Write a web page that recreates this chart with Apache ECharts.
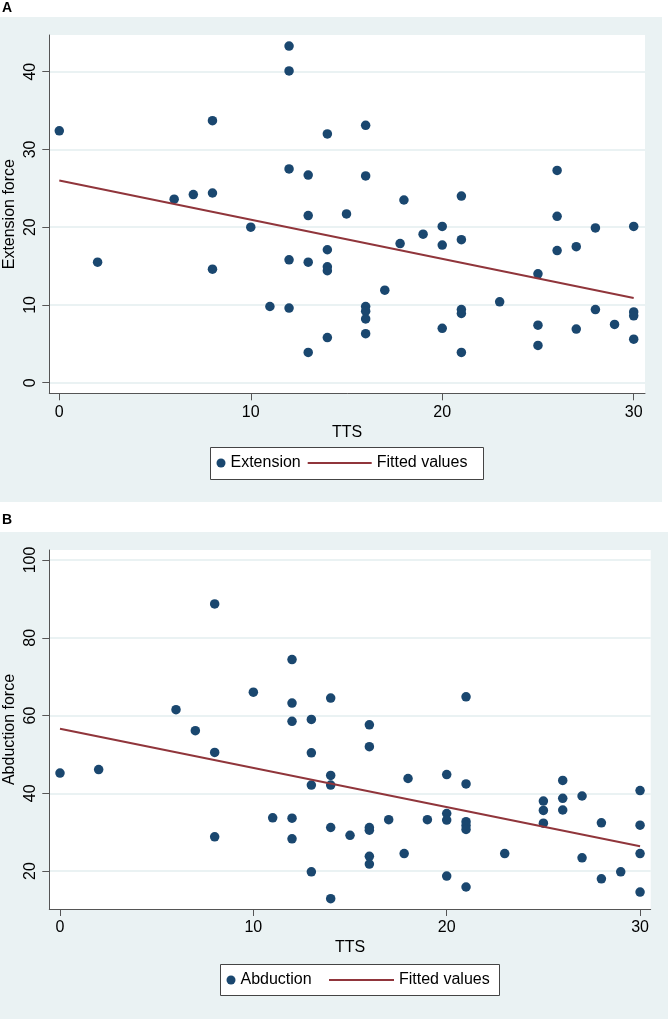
<!DOCTYPE html>
<html><head><meta charset="utf-8">
<script src="https://cdn.jsdelivr.net/npm/echarts@6/dist/echarts.min.js"></script>
<style>html,body{margin:0;padding:0;background:#fff}#c{width:668px;height:1019px}</style>
</head><body><div id="c"></div>
<script>
// Panel A: Extension force vs TTS
const extTTS = [0, 2, 6, 7, 8, 8, 8, 10, 11, 12, 12, 12, 12, 12, 13, 13, 13, 13, 14, 14, 14, 14, 14, 15,
  16, 16, 16, 16, 16, 16, 17, 17.8, 18, 19, 20, 20, 20, 21, 21, 21, 21, 21, 23, 25, 25, 25, 26, 26, 26,
  27, 27, 28, 28, 29, 30, 30, 30, 30];
const extForce = [32.4, 15.5, 23.6, 24.2, 33.7, 24.4, 14.6, 20.0, 9.8, 43.3, 40.1, 27.5, 15.8, 9.6, 26.7, 21.5, 15.5, 3.9, 32.0, 17.1, 14.9, 14.4, 5.8, 21.7,
  33.1, 26.6, 9.8, 9.2, 8.2, 6.3, 11.9, 17.9, 23.5, 19.1, 20.1, 17.7, 7.0, 24.0, 18.4, 9.4, 8.9, 3.9, 10.4, 14.0, 7.4, 4.8, 27.3, 21.4, 17.0,
  17.5, 6.9, 19.9, 9.4, 7.5, 20.1, 9.1, 8.6, 5.6];
const extFitTTS = [0, 30];
const extFitValues = [26.0, 10.9];

// Panel B: Abduction force vs TTS
const abdTTS = [0, 2, 6, 7, 8, 8, 8, 10, 11, 12, 12, 12, 12, 12, 13, 13, 13, 13, 14, 14, 14, 14, 14, 15,
  16, 16, 16, 16, 16, 16, 17, 17.8, 18, 19, 20, 20, 20, 20, 21, 21, 21, 21, 21, 21, 23, 25, 25, 25,
  26, 26, 26, 27, 27, 28, 28, 29, 30, 30, 30, 30];
const abdForce = [45.2, 46.1, 61.5, 56.1, 88.7, 50.5, 28.8, 66.0, 33.7, 74.4, 63.2, 58.5, 33.6, 28.3, 59.0, 50.4, 42.1, 19.8, 64.5, 44.6, 42.1, 31.2, 12.9, 29.2,
  57.6, 52.0, 31.2, 30.5, 23.8, 21.8, 33.2, 24.5, 43.8, 33.2, 44.8, 34.8, 33.1, 18.7, 64.8, 42.4, 32.7, 31.7, 30.7, 15.9, 24.5, 38.0, 35.6, 32.3,
  43.3, 38.7, 35.7, 39.3, 23.4, 32.4, 18.0, 19.8, 40.7, 31.8, 24.5, 14.6];
const abdFitTTS = [0, 30];
const abdFitValues = [56.6, 26.4];

const xTicks = [0, 10, 20, 30];
const yTicksA = [0, 10, 20, 30, 40];
const yTicksB = [20, 40, 60, 80, 100];

const FONT = '"Liberation Sans", Arial, sans-serif';
const DOT = '#1a476f', FIT = '#90353b', BG = '#eaf2f3', AX = '#555';

function pairs(xs, ys) { return xs.map((x, i) => [x, ys[i]]); }

function xAx(grid, min, max) {
  return {
    type: 'value', gridIndex: grid, min: min, max: max,
    name: 'TTS', nameLocation: 'middle', nameGap: 31,
    nameTextStyle: { fontFamily: FONT, fontSize: 16, color: '#000' },
    axisLine: { show: true, onZero: false, lineStyle: { color: AX, width: 1 } },
    axisTick: { show: true, length: 7, customValues: xTicks, lineStyle: { color: AX } },
    axisLabel: { customValues: xTicks, margin: 11, fontFamily: FONT, fontSize: 16, color: '#000' },
    splitLine: { show: false }
  };
}
function yAx(grid, min, max, name, ticks) {
  return {
    type: 'value', gridIndex: grid, min: min, max: max,
    name: name, nameLocation: 'middle', nameGap: 32, nameMoveOverlap: false,
    nameTextStyle: { fontFamily: FONT, fontSize: 16, color: '#000' },
    axisLine: { show: true, onZero: false, lineStyle: { color: AX, width: 1 } },
    axisTick: { show: true, length: 7, customValues: ticks, lineStyle: { color: AX } },
    axisLabel: { customValues: ticks, rotate: 90, margin: 11, fontFamily: FONT, fontSize: 16, color: '#000' },
    splitLine: { show: true, customValues: ticks, lineStyle: { color: BG, width: 2 } }
  };
}

const legendText = { fontFamily: FONT, fontSize: 16, color: '#000' };

const chart = echarts.init(document.getElementById('c'), null, { renderer: 'canvas' });
chart.setOption({
  animation: false,
  backgroundColor: '#fff',
  textStyle: { fontFamily: FONT },
  graphic: [
    { type: 'rect', z: -10, shape: { x: 0, y: 17, width: 662, height: 485 }, style: { fill: BG } },
    { type: 'rect', z: -10, shape: { x: 0, y: 532, width: 668, height: 487 }, style: { fill: BG } },
    { type: 'text', left: 2, top: 1, style: { text: 'A', font: 'bold 14px ' + FONT, fill: '#000' } },
    { type: 'text', left: 2, top: 513, style: { text: 'B', font: 'bold 14px ' + FONT, fill: '#000' } },
    { type: 'rect', z: 1, shape: { x: 210.5, y: 447.5, width: 273, height: 32 }, style: { fill: '#fff', stroke: '#444', lineWidth: 1 } },
    { type: 'rect', z: 1, shape: { x: 220.5, y: 964.5, width: 279, height: 31 }, style: { fill: '#fff', stroke: '#444', lineWidth: 1 } }
  ],
  grid: [
    { left: 49.3, top: 35, width: 595.7, height: 358.3, show: true, backgroundColor: '#fff', borderWidth: 0, containLabel: false, outerBoundsMode: 'none' },
    { left: 49.3, top: 550, width: 601.4, height: 359, show: true, backgroundColor: '#fff', borderWidth: 0, containLabel: false, outerBoundsMode: 'none' }
  ],
  xAxis: [ xAx(0, -0.522, 30.59), xAx(1, -0.553, 30.55) ],
  yAxis: [ yAx(0, -1.363, 44.72, 'Extension force', yTicksA), yAx(1, 10.24, 102.57, 'Abduction force', yTicksB) ],
  legend: [
    { data: [{ name: 'Extension', icon: 'circle' }], left: 216.5, top: 455, padding: 0, itemWidth: 9, itemHeight: 9, selectedMode: false, textStyle: legendText },
    { data: [{ name: 'Fitted values', itemStyle: { opacity: 0 } }], left: 306.7, top: 455, padding: 0, itemWidth: 64, itemHeight: 14, selectedMode: false, textStyle: legendText },
    { data: [{ name: 'Abduction', icon: 'circle' }], left: 226.5, top: 972, padding: 0, itemWidth: 9, itemHeight: 9, selectedMode: false, textStyle: legendText },
    { data: [{ name: 'Fitted values', itemStyle: { opacity: 0 } }], left: 328, top: 972, padding: 0, itemWidth: 65, itemHeight: 14, selectedMode: false, textStyle: legendText }
  ],
  series: [
    { name: 'Extension', type: 'scatter', xAxisIndex: 0, yAxisIndex: 0, symbol: 'circle', symbolSize: 9.5,
      itemStyle: { color: DOT, opacity: 1 }, data: pairs(extTTS, extForce), z: 3 },
    { name: 'Fitted values', type: 'line', xAxisIndex: 0, yAxisIndex: 0, symbol: 'none', showSymbol: false,
      lineStyle: { color: FIT, width: 2 }, itemStyle: { color: FIT }, data: pairs(extFitTTS, extFitValues), z: 4 },
    { name: 'Abduction', type: 'scatter', xAxisIndex: 1, yAxisIndex: 1, symbol: 'circle', symbolSize: 9.5,
      itemStyle: { color: DOT, opacity: 1 }, data: pairs(abdTTS, abdForce), z: 3 },
    { name: 'Fitted values', type: 'line', xAxisIndex: 1, yAxisIndex: 1, symbol: 'none', showSymbol: false,
      lineStyle: { color: FIT, width: 2 }, itemStyle: { color: FIT }, data: pairs(abdFitTTS, abdFitValues), z: 4 }
  ]
});
</script>
</body></html>
